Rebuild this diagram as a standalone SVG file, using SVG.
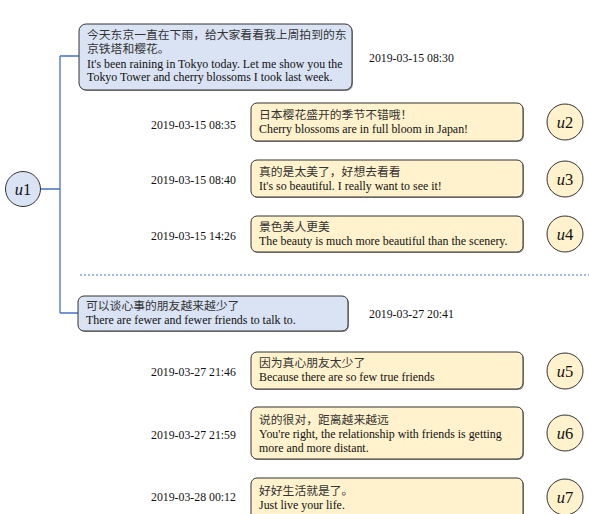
<svg xmlns="http://www.w3.org/2000/svg" width="589" height="514" viewBox="0 0 589 514">
<style>
.bb{fill:#dae3f3;stroke:#333;stroke-width:1}
.yb{fill:#fff2cc;stroke:#333;stroke-width:1}
.sh{fill:#999;stroke:none}
.zh{font-family:"Liberation Serif","Noto Sans CJK SC",serif;font-size:11.8px;fill:#333}
.en{font-family:"Liberation Serif",serif;font-size:11.9px;fill:#111}
.ts{font-family:"Liberation Serif",serif;font-size:11.8px;fill:#111}
.ul{font-family:"Liberation Serif",serif;font-size:16.5px;fill:#111;text-anchor:middle}
.cn{stroke:#4472c4;stroke-width:1.3;fill:none}
</style>
<rect width="589" height="514" fill="#fff"/>
<g id="connectors">
<path class="cn" d="M40 189H60M60 56V313M60 56H79M60 313H78"/>
<line x1="80" y1="275" x2="589" y2="275" stroke="#4472c4" stroke-width="1" stroke-dasharray="2,2"/>
</g>
<g id="u1"><circle cx="23" cy="189" r="17.5" class="bb"/><text class="ul" x="23" y="195"><tspan font-style="italic">u</tspan>1</text></g>
<g id="m1">
<rect x="80" y="25" width="273" height="66" rx="7" class="sh"/>
<rect x="79" y="24" width="273" height="66" rx="7" class="bb"/>
<text class="zh" x="87" y="39">今天东京一直在下雨，给大家看看我上周拍到的东</text>
<text class="zh" x="87" y="53">京铁塔和樱花。</text>
<text class="en" x="87" y="67.5">It's been raining in Tokyo today. Let me show you the</text>
<text class="en" x="87" y="81">Tokyo Tower and cherry blossoms I took last week.</text>
<text class="ts" x="369" y="62">2019-03-15 08:30</text>
</g>
<g id="m2">
<text class="ts" x="151" y="129">2019-03-15 08:35</text>
<rect x="252" y="104" width="272" height="38" rx="6" class="sh"/>
<rect x="251" y="103" width="272" height="38" rx="6" class="yb"/>
<text class="zh" x="259" y="119">日本樱花盛开的季节不错哦！</text>
<text class="en" x="259" y="133">Cherry blossoms are in full bloom in Japan!</text>
<circle cx="565" cy="122" r="18" class="yb"/><text class="ul" x="565" y="128"><tspan font-style="italic">u</tspan>2</text>
</g>
<g id="m3">
<text class="ts" x="151" y="184">2019-03-15 08:40</text>
<rect x="252" y="161" width="272" height="37" rx="6" class="sh"/>
<rect x="251" y="160" width="272" height="37" rx="6" class="yb"/>
<text class="zh" x="259" y="176">真的是太美了，好想去看看</text>
<text class="en" x="259" y="190">It's so beautiful. I really want to see it!</text>
<circle cx="565" cy="179" r="18" class="yb"/><text class="ul" x="565" y="185"><tspan font-style="italic">u</tspan>3</text>
</g>
<g id="m4">
<text class="ts" x="151" y="240">2019-03-15 14:26</text>
<rect x="252" y="217" width="272" height="36" rx="6" class="sh"/>
<rect x="251" y="216" width="272" height="36" rx="6" class="yb"/>
<text class="zh" x="259" y="231">景色美人更美</text>
<text class="en" x="259" y="245">The beauty is much more beautiful than the scenery.</text>
<circle cx="565" cy="234" r="18" class="yb"/><text class="ul" x="565" y="240"><tspan font-style="italic">u</tspan>4</text>
</g>
<g id="m5">
<rect x="79" y="297" width="270" height="35" rx="6" class="sh"/>
<rect x="78" y="296" width="270" height="35" rx="6" class="bb"/>
<text class="zh" x="86" y="310">可以谈心事的朋友越来越少了</text>
<text class="en" x="86" y="324">There are fewer and fewer friends to talk to.</text>
<text class="ts" x="369" y="318">2019-03-27 20:41</text>
</g>
<g id="m6">
<text class="ts" x="151" y="376">2019-03-27 21:46</text>
<rect x="252" y="353" width="272" height="37" rx="6" class="sh"/>
<rect x="251" y="352" width="272" height="37" rx="6" class="yb"/>
<text class="zh" x="259" y="367">因为真心朋友太少了</text>
<text class="en" x="259" y="381">Because there are so few true friends</text>
<circle cx="565" cy="371" r="18" class="yb"/><text class="ul" x="565" y="377"><tspan font-style="italic">u</tspan>5</text>
</g>
<g id="m7">
<text class="ts" x="151" y="439">2019-03-27 21:59</text>
<rect x="252" y="408" width="272" height="52" rx="6" class="sh"/>
<rect x="251" y="407" width="272" height="52" rx="6" class="yb"/>
<text class="zh" x="259" y="424">说的很对，距离越来越远</text>
<text class="en" x="259" y="438">You're right, the relationship with friends is getting</text>
<text class="en" x="259" y="452">more and more distant.</text>
<circle cx="565" cy="433" r="18" class="yb"/><text class="ul" x="565" y="439"><tspan font-style="italic">u</tspan>6</text>
</g>
<g id="m8">
<text class="ts" x="151" y="501">2019-03-28 00:12</text>
<rect x="252" y="479" width="272" height="45" rx="6" class="sh"/>
<rect x="251" y="478" width="272" height="45" rx="6" class="yb"/>
<text class="zh" x="259" y="495">好好生活就是了。</text>
<text class="en" x="259" y="509">Just live your life.</text>
<circle cx="565" cy="497" r="18" class="yb"/><text class="ul" x="565" y="503"><tspan font-style="italic">u</tspan>7</text>
</g>
</svg>
